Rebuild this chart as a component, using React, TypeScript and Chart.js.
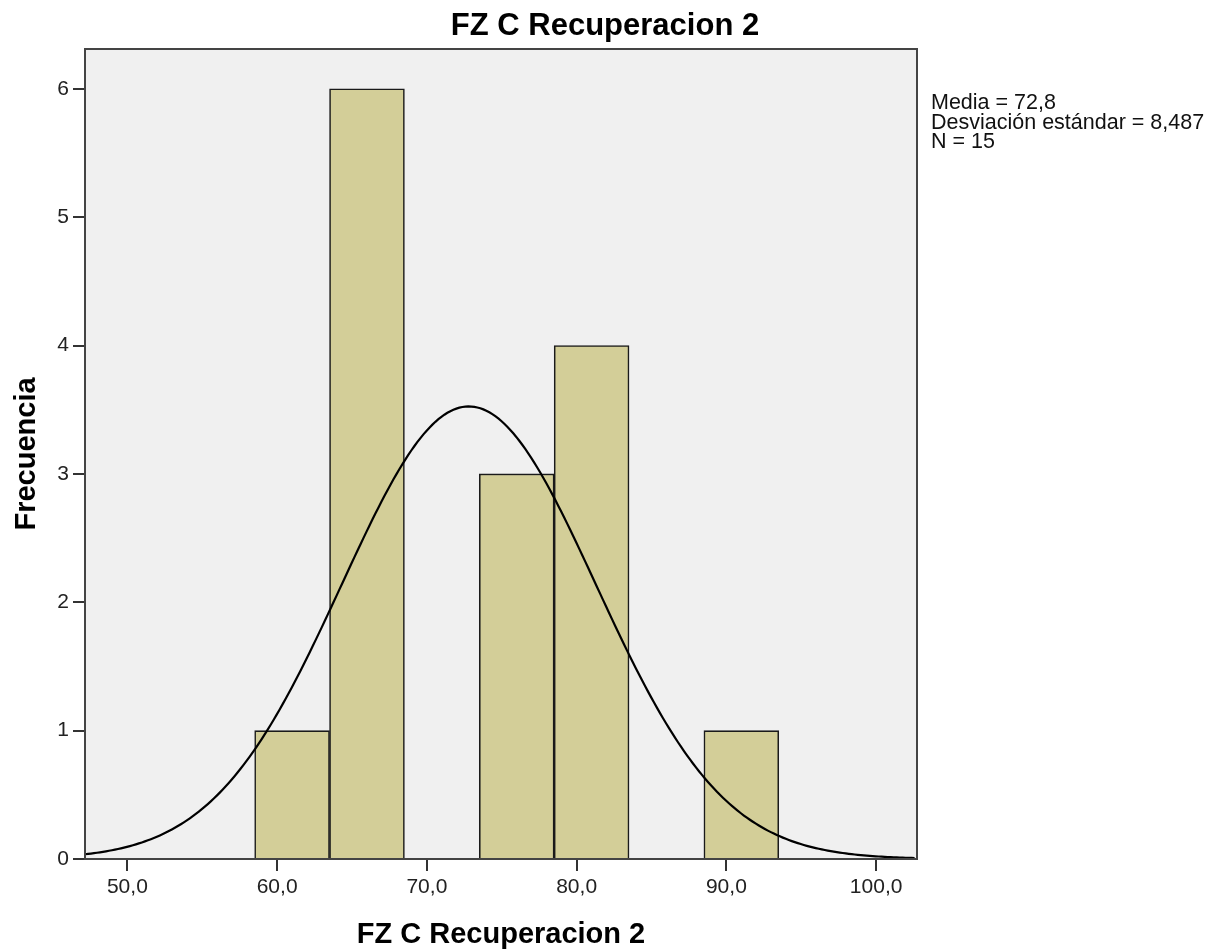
import React, { useEffect, useRef } from "react";
import { Chart, registerables } from "chart.js";

Chart.register(...registerables);

// Histogram bins (centres) and counts
const binCenters = [61, 66, 71, 76, 81, 86, 91];
const binCounts = [1, 6, 0, 3, 4, 0, 1];
const binWidth = 5;

// Summary statistics shown on the chart
const mean = 72.8;
const stdDev = 8.487;
const nObs = 15;
const statsLines = ["Media = 72,8", "Desviación estándar = 8,487", "N = 15"];

// Axes
const xMin = 47.17;
const xMax = 102.73;
const yMax = 6.31;
const titleText = "FZ C Recuperacion 2";
const xTitleText = "FZ C Recuperacion 2";
const yTitleText = "Frecuencia";

const FONT = "'Liberation Sans', Arial, sans-serif";

function normalCurve() {
  const pts: { x: number; y: number }[] = [];
  const k = (nObs * binWidth) / (stdDev * Math.sqrt(2 * Math.PI));
  for (let x = xMin; x <= xMax + 1e-9; x += 0.2) {
    const z = (x - mean) / stdDev;
    pts.push({ x, y: k * Math.exp(-0.5 * z * z) });
  }
  return pts;
}

export default function App() {
  const ref = useRef<HTMLCanvasElement | null>(null);

  useEffect(() => {
    document.body.style.margin = "0";
    const canvas = ref.current!;
    const framePlugin = {
      id: "frame",
      beforeDraw(chart: any) {
        const { ctx, chartArea: a } = chart;
        ctx.save();
        ctx.fillStyle = "#ffffff";
        ctx.fillRect(0, 0, chart.width, chart.height);
        ctx.fillStyle = "#f0f0f0";
        ctx.fillRect(a.left, a.top, a.right - a.left, a.bottom - a.top);
        ctx.restore();
      },
      afterDraw(chart: any) {
        const { ctx, chartArea: a } = chart;
        ctx.save();
        ctx.strokeStyle = "#444444";
        ctx.lineWidth = 2;
        ctx.strokeRect(a.left, a.top, a.right - a.left, a.bottom - a.top);

        ctx.fillStyle = "#000000";
        ctx.font = `bold 31px ${FONT}`;
        ctx.textAlign = "center";
        ctx.textBaseline = "alphabetic";
        ctx.fillText(titleText, 605, 35);

        ctx.font = `bold 29px ${FONT}`;
        ctx.fillText(xTitleText, (a.left + a.right) / 2, 943);

        ctx.save();
        ctx.translate(35, (a.top + a.bottom) / 2);
        ctx.rotate(-Math.PI / 2);
        ctx.fillText(yTitleText, 0, 0);
        ctx.restore();

        ctx.font = `21.5px ${FONT}`;
        ctx.textAlign = "left";
        ctx.fillStyle = "#111111";
        const bases = [109, 128.5, 148];
        statsLines.forEach((s, i) => ctx.fillText(s, 931, bases[i]));
        ctx.restore();
      },
    };

    const chart = new Chart(canvas, {
      type: "bar",
      data: {
        datasets: [
          {
            type: "line",
            data: normalCurve(),
            borderColor: "#000000",
            borderWidth: 2.2,
            pointRadius: 0,
            tension: 0,
            fill: false,
            order: 0,
          } as any,
          {
            type: "bar",
            data: binCenters.map((c, i) => ({ x: c, y: binCounts[i] })),
            backgroundColor: "#d3ce98",
            borderColor: "#1a1a1a",
            borderWidth: 1.6,
            barPercentage: 1,
            categoryPercentage: 1,
            order: 1,
          } as any,
        ],
      },
      options: {
        animation: false,
        responsive: false,
        devicePixelRatio: 1,
        layout: { padding: { left: 0, top: 49, right: 304, bottom: 43 } },
        plugins: { legend: { display: false }, tooltip: { enabled: false }, title: { display: false } },
        scales: {
          x: {
            type: "linear",
            min: xMin,
            max: xMax,
            offset: false,
            grid: { display: true, drawOnChartArea: false, drawTicks: true, tickLength: 12, color: "#333333", lineWidth: 2, offset: false },
            border: { display: true, color: "#333333", width: 2 },
            ticks: {
              stepSize: 10,
              includeBounds: false,
              padding: 4,
              color: "#222222",
              font: { family: FONT, size: 21 },
              maxRotation: 0,
              callback: (v: any) => Number(v).toFixed(1).replace(".", ","),
            },
            afterFit: (s: any) => { s.height = 50; },
          },
          y: {
            type: "linear",
            min: 0,
            max: yMax,
            grid: { display: true, drawOnChartArea: false, drawTicks: true, tickLength: 12, color: "#333333", lineWidth: 2 },
            border: { display: true, color: "#333333", width: 2 },
            ticks: {
              stepSize: 1,
              includeBounds: false,
              padding: 4,
              color: "#222222",
              font: { family: FONT, size: 21 },
              callback: (v: any) => String(v),
            },
            afterFit: (s: any) => { s.width = 85; },
          },
        },
      } as any,
      plugins: [framePlugin],
    });
    return () => chart.destroy();
  }, []);

  return <canvas ref={ref} width={1221} height={952} style={{ display: "block", width: 1221, height: 952 }} />;
}
